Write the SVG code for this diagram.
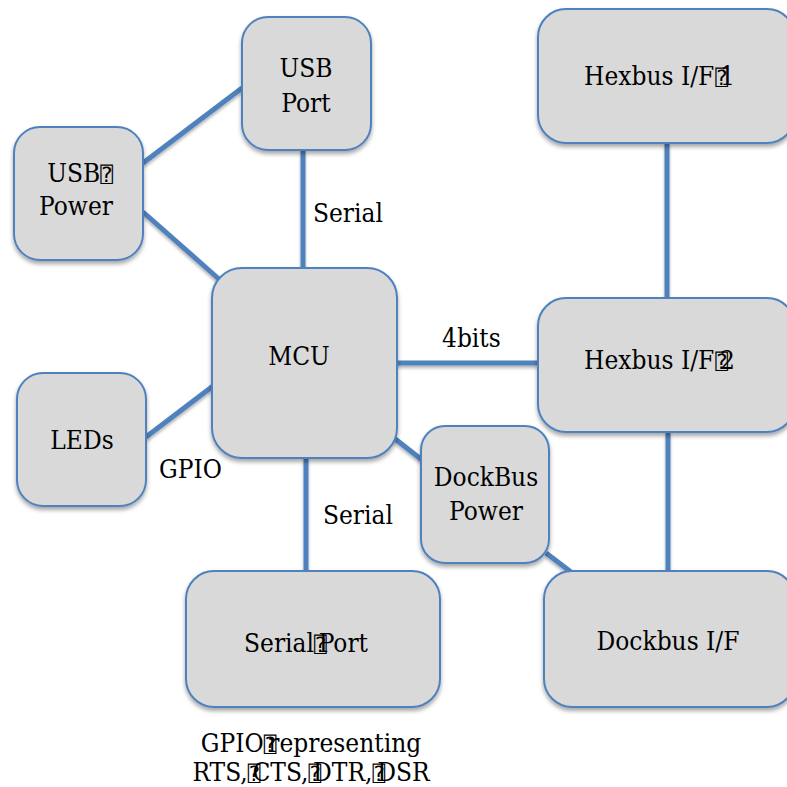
<svg xmlns="http://www.w3.org/2000/svg" width="787" height="787" viewBox="0 0 787 787">
  <defs>
    <filter id="shadow" x="-20%" y="-20%" width="140%" height="150%">
      <feDropShadow dx="0" dy="3" stdDeviation="2.2" flood-color="#000" flood-opacity="0.35"/>
    </filter>
    <filter id="lineShadow" x="-20%" y="-20%" width="140%" height="140%">
      <feDropShadow dx="0" dy="2.5" stdDeviation="1.8" flood-color="#000" flood-opacity="0.3"/>
    </filter>
  </defs>
  <style>
    .box { fill: #d9d9d9; stroke: #4f81bd; stroke-width: 2; filter: url(#shadow); }
    .wire { stroke: #4f81bd; stroke-width: 5; fill: none; stroke-linecap: butt; }
    text { font-family: 'DejaVu Serif Condensed', 'DejaVu Serif', 'Liberation Serif', serif; font-stretch: condensed; font-size: 26px; fill: #000; }
    .ctr { text-anchor: middle; }
    .q { font-family: 'DejaVu Sans Mono', 'DejaVu Sans', monospace; font-stretch: normal; font-size: 21px; }
  </style>

  <rect width="787" height="787" fill="#fff"/>

  <!-- connectors -->
  <g id="connectors" filter="url(#lineShadow)">
    <line class="wire" x1="143" y1="163" x2="242" y2="88"/>
    <line class="wire" x1="143" y1="212" x2="220" y2="280"/>
    <line class="wire" x1="303" y1="150" x2="303" y2="268"/>
    <line class="wire" x1="146" y1="437" x2="213" y2="386"/>
    <line class="wire" x1="397" y1="363" x2="538" y2="363"/>
    <line class="wire" x1="394" y1="438" x2="422" y2="460"/>
    <line class="wire" x1="546" y1="553" x2="571" y2="572"/>
    <line class="wire" x1="306" y1="458" x2="306" y2="571"/>
    <line class="wire" x1="667" y1="143" x2="667" y2="298"/>
    <line class="wire" x1="668" y1="432" x2="668" y2="571"/>
  </g>

  <!-- edge labels -->
  <g id="labels">
    <text x="313" y="222">Serial</text>
    <text x="442" y="347">4bits</text>
    <text x="159" y="478">GPIO</text>
    <text x="323" y="524">Serial</text>
  </g>

  <g id="usb-port">
    <rect class="box" x="242" y="17" width="129" height="133" rx="26"/>
    <text class="ctr" x="306" y="77">USB</text>
    <text class="ctr" x="306" y="112">Port</text>
  </g>

  <g id="usb-power">
    <rect class="box" x="14" y="127" width="129" height="133" rx="26"/>
    <text class="ctr" x="80" y="182">USB<tspan class="q">⍰</tspan></text>
    <text class="ctr" x="76" y="215">Power</text>
  </g>

  <g id="mcu">
    <rect class="box" x="212" y="268" width="185" height="190" rx="30"/>
    <text class="ctr" x="299" y="365">MCU</text>
  </g>

  <g id="leds">
    <rect class="box" x="17" y="373" width="129" height="133" rx="26"/>
    <text class="ctr" x="82" y="449">LEDs</text>
  </g>

  <g id="hexbus-1">
    <rect class="box" x="538" y="9" width="257" height="134" rx="28"/>
    <text x="584" y="85">Hexbus I/F<tspan class="q" dx="1">⍰</tspan><tspan dx="-8">1</tspan></text>
  </g>

  <g id="hexbus-2">
    <rect class="box" x="538" y="298" width="257" height="134" rx="28"/>
    <text x="584" y="369">Hexbus I/F<tspan class="q" dx="1">⍰</tspan><tspan dx="-8">2</tspan></text>
  </g>

  <g id="dockbus-power">
    <rect class="box" x="421" y="426" width="128" height="137" rx="24"/>
    <text class="ctr" x="486" y="486">DockBus</text>
    <text class="ctr" x="486" y="520">Power</text>
  </g>

  <g id="serial-port">
    <rect class="box" x="186" y="571" width="254" height="136" rx="28"/>
    <text class="ctr" x="306" y="652">Serial<tspan class="q">⍰</tspan><tspan dx="-8">Port</tspan></text>
  </g>

  <g id="dockbus-if">
    <rect class="box" x="544" y="571" width="251" height="136" rx="28"/>
    <text class="ctr" x="668" y="650">Dockbus I/F</text>
  </g>

  <g id="serial-note">
    <text class="ctr" x="311" y="752">GPIO<tspan class="q">⍰</tspan><tspan dx="-8">representing</tspan></text>
    <text class="ctr" x="311" y="781">RTS,<tspan class="q">⍰</tspan><tspan dx="-8">CTS,</tspan><tspan class="q">⍰</tspan><tspan dx="-8">DTR,</tspan><tspan class="q">⍰</tspan><tspan dx="-8">DSR</tspan></text>
  </g>
</svg>
